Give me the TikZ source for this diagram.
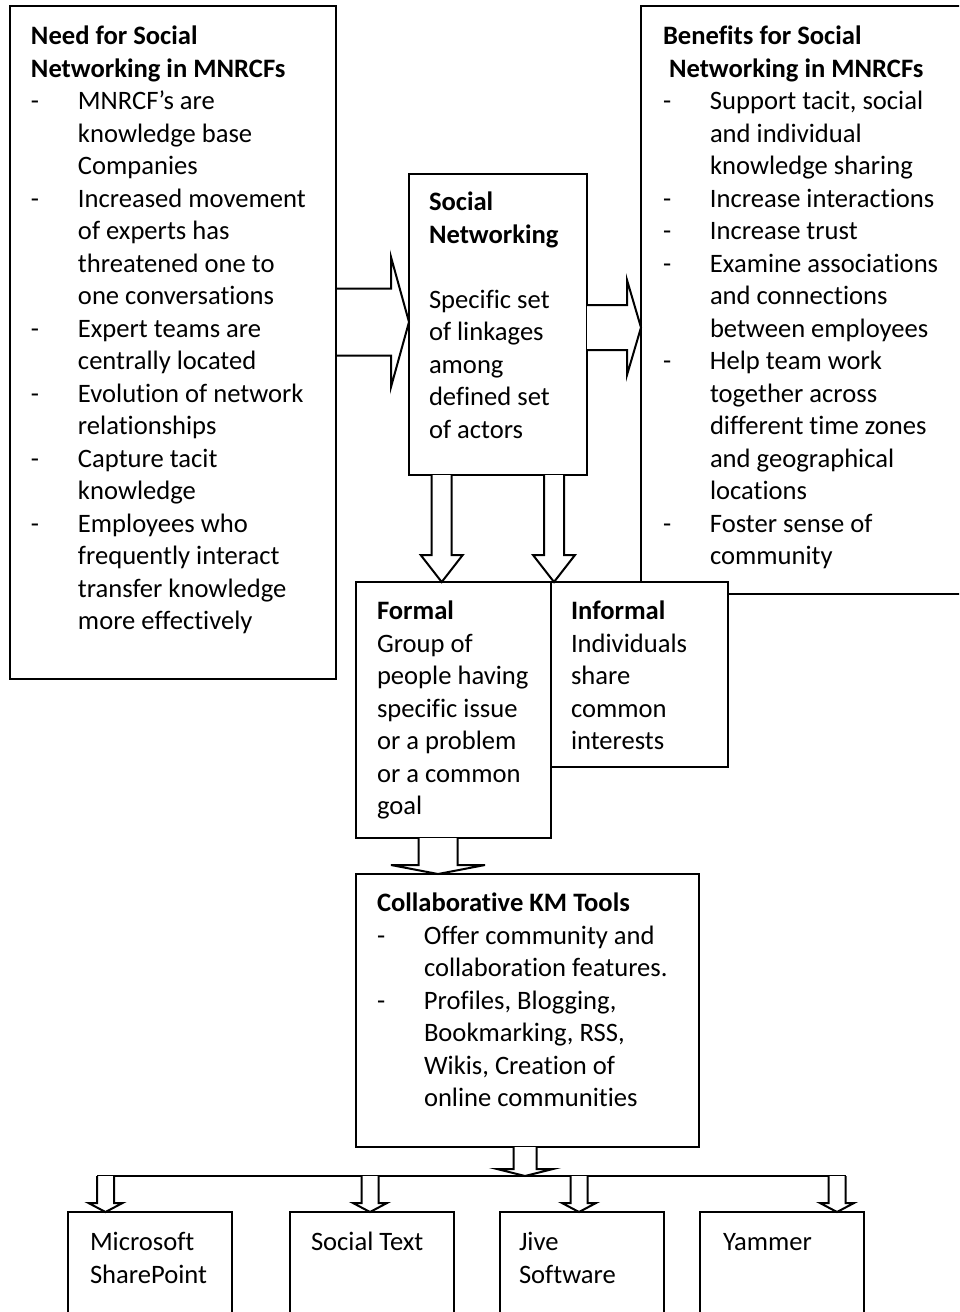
\documentclass[tikz,border=0pt]{standalone}
\usepackage{fontspec}
\setmainfont{Carlito}[Ligatures=NoCommon]
\newlength\dashw \setlength\dashw{23.5pt}
\newcommand\dl[1]{\makebox[\dashw][l]{-}#1}
\newcommand\cl[1]{\hspace*{\dashw}#1}
\newcommand\tblock[1]{\parbox[t]{200pt}{\fontsize{13.3pt}{16.25pt}\selectfont #1}}
% tip, rotation, length, stem half, head half, head length
\newcommand\blockarrow[6]{%
  \draw[arr, shift={(#1)}, rotate=#2] (-#3,#4) -- (-#6,#4) -- (-#6,#5) -- (0,0) -- (-#6,-#5) -- (-#6,-#4) -- (-#3,-#4);}
\tikzset{
  box/.style={draw, line width=1pt, fill=white, inner sep=0pt, outer sep=0pt, anchor=north west},
  txt/.style={anchor=base west, inner sep=0pt, outer sep=0pt},
  arr/.style={draw, line width=1pt, fill=white, line join=miter},
}
\begin{document}
\begin{tikzpicture}[x=0.5pt,y=-0.5pt]
\useasboundingbox (0,0) rectangle (959,1312);
\clip (0,0) rectangle (959,1312);
\fill[white] (0,0) rectangle (959,1312);

% boxes
\node[box, minimum width=163pt, minimum height=336.5pt] (need) at (10,6) {};
\node[box, minimum width=179.5pt, minimum height=294pt] (benefit) at (641,6) {};
\node[box, minimum width=88.5pt, minimum height=92.5pt] (informal) at (551,582) {};
\node[box, minimum width=97.5pt, minimum height=128pt] (formal) at (356,582) {};
\node[box, minimum width=89pt, minimum height=150.5pt] (social) at (409,174) {};
\node[box, minimum width=171.5pt, minimum height=136.5pt] (collab) at (356,874) {};
\node[box, minimum width=82pt, minimum height=64pt] (ms) at (68,1212) {};
\node[box, minimum width=82pt, minimum height=64pt] (st) at (290,1212) {};
\node[box, minimum width=82pt, minimum height=64pt] (jive) at (500,1212) {};
\node[box, minimum width=82pt, minimum height=64pt] (yam) at (700,1212) {};

% texts
\node[txt] (needt) at (31,44.5) {\tblock{%
\textbf{Need for Social}\\
\textbf{Networking in MNRCFs}\\
\dl{MNRCF’s are}\\
\cl{knowledge base}\\
\cl{Companies}\\
\dl{Increased movement}\\
\cl{of experts has}\\
\cl{threatened one to}\\
\cl{one conversations}\\
\dl{Expert teams are}\\
\cl{centrally located}\\
\dl{Evolution of network}\\
\cl{relationships}\\
\dl{Capture tacit}\\
\cl{knowledge}\\
\dl{Employees who}\\
\cl{frequently interact}\\
\cl{transfer knowledge}\\
\cl{more effectively}}};

\node[txt] (benefitt) at (663,44.5) {\tblock{%
\textbf{Benefits for Social}\\
\textbf{\hspace*{3pt}Networking in MNRCFs}\\
\dl{Support tacit, social}\\
\cl{and individual}\\
\cl{knowledge sharing}\\
\dl{Increase interactions}\\
\dl{Increase trust}\\
\dl{Examine associations}\\
\cl{and connections}\\
\cl{between employees}\\
\dl{Help team work}\\
\cl{together across}\\
\cl{different time zones}\\
\cl{and geographical}\\
\cl{locations}\\
\dl{Foster sense of}\\
\cl{community}}};

\node[txt] (socialt) at (429,210.5) {\tblock{%
\textbf{Social}\\
\textbf{Networking}\\[16.25pt]
Specific set\\
of linkages\\
among\\
defined set\\
of actors}};

\node[txt] (formalt) at (377,619.5) {\tblock{%
\textbf{Formal}\\
Group of\\
people having\\
specific issue\\
or a problem\\
or a common\\
goal}};

\node[txt] (informalt) at (571,619.5) {\tblock{%
\textbf{Informal}\\
Individuals\\
share\\
common\\
interests}};

\node[txt] (collabt) at (377,911.5) {\tblock{%
\textbf{Collaborative KM Tools}\\
\dl{Offer community and}\\
\cl{collaboration features.}\\
\dl{Profiles, Blogging,}\\
\cl{Bookmarking, RSS,}\\
\cl{Wikis, Creation of}\\
\cl{online communities}}};

\node[txt] (mst) at (90,1250.5) {\tblock{Microsoft\\ SharePoint}};
\node[txt] (stt) at (311,1250.5) {\tblock{Social Text}};
\node[txt] (jivet) at (519,1250.5) {\tblock{Jive\\ Software}};
\node[txt] (yamt) at (723,1250.5) {\tblock{Yammer}};

% arrow tips
\coordinate (tA) at (409,322);
\coordinate (tB) at (641,327.5);
\coordinate (tC) at (441.7,582);
\coordinate (tD) at (554,582);
\coordinate (tE) at (438,874);
\coordinate (tF) at (525,1176);
\coordinate (busL) at (97,1176);
\coordinate (busR) at (846,1176);
\coordinate (t1) at (105.5,1212);
\coordinate (t2) at (370,1212);
\coordinate (t3) at (579,1212);
\coordinate (t4) at (837,1212);

\blockarrow{tA}{0}{72}{33.5}{65}{18}
\blockarrow{tB}{0}{54}{22.5}{47.5}{14}
\blockarrow{tC}{-90}{107}{10}{21}{27}
\blockarrow{tD}{-90}{107}{10}{21}{27}
\blockarrow{tE}{-90}{36}{19.5}{47}{9}
\blockarrow{tF}{-90}{29}{11.5}{28}{7}
\draw[line width=1pt] (busL) -- (busR);
\blockarrow{t1}{-90}{36}{8.5}{17}{9}
\blockarrow{t2}{-90}{36}{8.5}{17}{9}
\blockarrow{t3}{-90}{36}{8.5}{17}{9}
\blockarrow{t4}{-90}{36}{8.5}{17}{9}
\end{tikzpicture}
\end{document}
